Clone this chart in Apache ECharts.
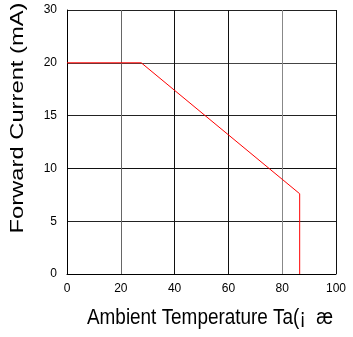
<!DOCTYPE html>
<html>
<head>
<meta charset="utf-8">
<script src="https://cdn.jsdelivr.net/npm/echarts@6/dist/echarts.min.js"></script>
<style>
  html, body { margin: 0; padding: 0; background: #fff; }
  #chart { width: 353px; height: 337px; }
</style>
</head>
<body>
<div id="chart"></div>
<script>
// derating curve: temperature (C) vs forward current (mA)
const temperature = [0, 27.6, 86.5, 86.5];
const current = [20, 20, 7.6, 0];
// y tick labels: the top tick reads 30 but sits one step above 20
const yTickLabels = ["0", "5", "10", "15", "20", "30"];
const xTitle = "Ambient Temperature Ta(¡  æ";
const yTitle = "Forward Current (mA)";

const chart = echarts.init(document.getElementById("chart"));

const option = {
    animation: false,
    grid: { left: 67, right: 17, top: 10, bottom: 63 },
    xAxis: {
        type: "value",
        min: 0,
        max: 100,
        interval: 20,
        axisLine: { lineStyle: { color: "#000", width: 1 } },
        axisTick: { show: false },
        axisLabel: { fontFamily: "Liberation Sans", fontSize: 12, color: "#000", margin: 9 },
        splitLine: { lineStyle: { color: ["#000", "#666", "#111", "#111", "#888", "#111"], width: 1 } }
    },
    yAxis: {
        type: "value",
        min: 0,
        max: 25,
        interval: 5,
        axisLine: { lineStyle: { color: "#000", width: 1 } },
        axisTick: { show: false },
        axisLabel: {
            fontFamily: "Liberation Sans",
            fontSize: 12,
            color: "#000",
            margin: 10,
            formatter: v => yTickLabels[Math.round(v / 5)]
        },
        splitLine: { lineStyle: { color: ["#000", "#222", "#111", "#222", "#444", "#222"], width: 1 } }
    },
    // axis titles as text, stretched like in the scanned datasheet
    graphic: [
        {
            type: "text",
            x: 210,
            y: 318,
            scaleX: 0.86,
            style: {
                text: xTitle,
                font: "22px 'Liberation Sans'",
                fill: "#000",
                align: "center",
                verticalAlign: "middle"
            }
        },
        {
            type: "text",
            x: 18,
            y: 118,
            rotation: Math.PI / 2,
            scaleX: 1.32,
            style: {
                text: yTitle,
                font: "18px 'Liberation Sans'",
                fill: "#000",
                align: "center",
                verticalAlign: "middle"
            }
        }
    ],
    series: [{
        type: "line",
        data: temperature.map((t, i) => [t, current[i]]),
        symbol: "none",
        lineStyle: { color: "#ff0000", width: 1 }
    }]
};

chart.setOption(option);
</script>
</body>
</html>
